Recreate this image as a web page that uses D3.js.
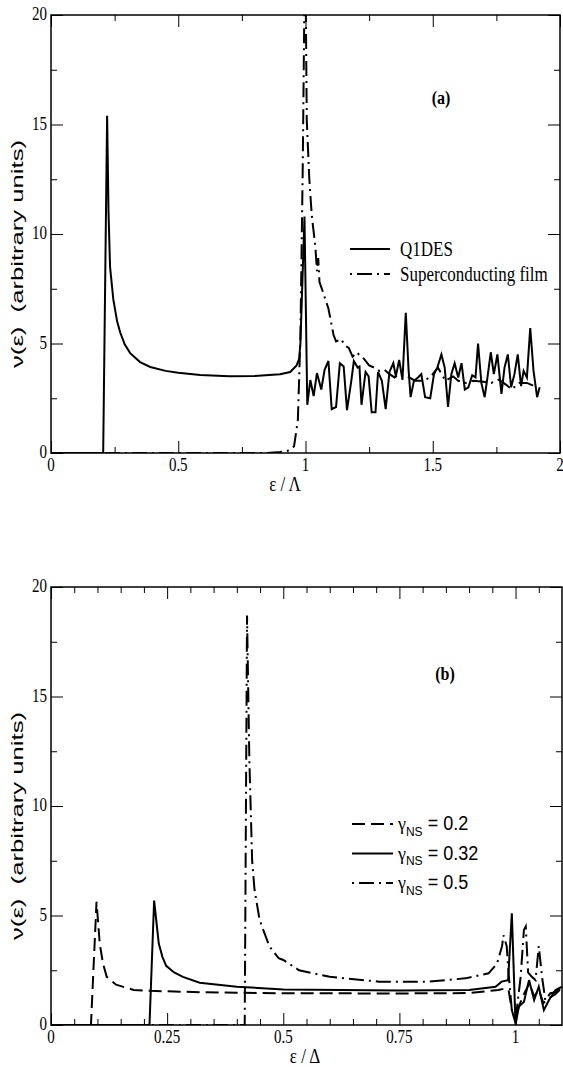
<!DOCTYPE html>
<html>
<head>
<meta charset="utf-8">
<script src="https://cdn.jsdelivr.net/npm/d3@7"></script>
<style>
  body { margin: 0; background: #fff; }
  svg { display: block; }
</style>
</head>
<body>
<svg id="chart" width="563" height="1067"></svg>
<script>
// ---- data ----
const yTicks = [0, 5, 10, 15, 20];
const yMinor = [2.5, 7.5, 12.5, 17.5];

const xTicksA = [0, 0.5, 1, 1.5, 2];
const xMinorA = [0.25, 0.75, 1.25, 1.75];
const xTicksB = [0, 0.25, 0.5, 0.75, 1];
const xMinorB = [0.05, 0.1, 0.15, 0.2, 0.3, 0.35, 0.4, 0.45, 0.55, 0.6, 0.65, 0.7,
                 0.8, 0.85, 0.9, 0.95, 1.05];

// panel (a): Q1DES
const q1des = [[0,0],[0.205,0],[0.2205,15.4],[0.226,11.0],[0.232,8.5],[0.245,7.0],[0.26,6.0],
  [0.272,5.5],[0.29,4.95],[0.311,4.56],[0.35,4.15],[0.39,3.93],[0.45,3.75],[0.5,3.66],
  [0.587,3.56],[0.7,3.5],[0.8,3.52],[0.9,3.6],[0.94,3.7],[0.965,4.0],[0.975,4.3],[0.98,5.0],
  [0.996,10.8],[1.007,2.2],[1.019,3.33],[1.032,2.6],[1.045,3.65],[1.062,2.9],[1.075,3.8],
  [1.09,4.2],[1.103,2.0],[1.12,2.1],[1.135,4.1],[1.15,3.95],[1.163,1.96],[1.18,3.3],
  [1.19,4.2],[1.205,3.9],[1.212,3.95],[1.22,2.2],[1.236,3.7],[1.248,3.5],[1.26,1.86],
  [1.275,1.86],[1.285,3.7],[1.3,3.3],[1.315,2.0],[1.33,3.7],[1.345,4.1],[1.355,3.5],
  [1.368,4.25],[1.381,3.34],[1.394,6.4],[1.405,3.8],[1.413,2.55],[1.426,3.3],[1.442,3.45],
  [1.455,3.6],[1.47,2.55],[1.49,2.5],[1.505,3.6],[1.518,3.9],[1.534,4.5],[1.547,3.9],
  [1.56,2.1],[1.573,3.6],[1.586,4.1],[1.6,3.45],[1.613,4.1],[1.626,2.9],[1.64,3.0],
  [1.655,3.55],[1.668,3.45],[1.678,5.0],[1.691,3.2],[1.704,2.55],[1.715,3.45],[1.728,4.6],
  [1.74,3.6],[1.754,4.5],[1.77,2.7],[1.782,3.9],[1.795,4.5],[1.808,3.0],[1.821,3.6],
  [1.834,4.5],[1.847,3.05],[1.857,3.75],[1.87,3.45],[1.883,5.7],[1.896,3.75],[1.91,2.55],
  [1.92,3.0]];

// panel (a): superconducting film
const scFilm = [[0,0],[0.85,0],[0.9,0.05],[0.93,0.1],[0.955,0.3],[0.97,1.5],[0.98,5.3],
  [0.989,12.9],[0.995,19.8],[1.0,22],[1.005,15.2],[1.015,12.5],[1.025,10.8],[1.039,9.4],
  [1.045,8.3],[1.05,8.9],[1.055,7.8],[1.07,7.3],[1.09,6.6],[1.11,5.4],[1.12,5.1],[1.14,5.2],
  [1.155,4.9],[1.17,4.8],[1.185,4.4],[1.2,4.6],[1.23,4.3],[1.25,4.0],[1.27,3.9],[1.29,3.75],
  [1.31,3.8],[1.33,3.6],[1.35,3.45],[1.37,3.6],[1.4,3.5],[1.43,3.3],[1.46,3.3],[1.49,3.45],
  [1.52,3.9],[1.55,3.3],[1.58,3.5],[1.6,3.3],[1.63,3.2],[1.66,3.3],[1.7,3.25],[1.73,3.2],
  [1.76,3.35],[1.79,3.1],[1.81,2.9],[1.84,3.2],[1.87,3.2],[1.9,3.05]];

// panel (b)
const gamma02 = [[0,0],[0.086,0],[0.098,5.63],[0.105,3.7],[0.112,2.8],[0.12,2.2],[0.14,1.84],
  [0.178,1.6],[0.214,1.56],[0.32,1.5],[0.5,1.45],[0.75,1.44],[0.9,1.46],[0.963,1.6],
  [0.978,1.67],[0.985,1.6],[0.992,0.68],[0.998,0.23],[1.01,1.0],[1.02,1.5],[1.03,1.9],
  [1.04,1.3],[1.05,1.6],[1.06,1.0],[1.07,1.2],[1.085,1.4],[1.1,1.7]];

const gamma032 = [[0,0],[0.212,0],[0.222,5.68],[0.232,3.72],[0.24,3.1],[0.248,2.7],
  [0.265,2.4],[0.284,2.2],[0.32,1.93],[0.4,1.75],[0.5,1.62],[0.75,1.58],[0.9,1.6],
  [0.957,1.75],[0.97,1.98],[0.984,2.05],[0.992,5.1],[1.0,0],[1.007,0.84],[1.018,1.05],
  [1.029,2.05],[1.04,1.14],[1.05,1.75],[1.061,0.68],[1.072,1.14],[1.086,1.6],[1.1,1.75]];

const gamma05 = [[0,0],[0.417,0],[0.422,18.7],[0.427,12.1],[0.433,7.5],[0.438,6.2],
  [0.449,4.8],[0.47,3.6],[0.49,3.05],[0.5,2.97],[0.534,2.5],[0.6,2.2],[0.706,1.98],
  [0.813,1.98],[0.892,2.13],[0.942,2.36],[0.96,2.8],[0.971,3.6],[0.974,4.1],[0.981,3.6],
  [0.985,2.36],[0.992,0.68],[1.0,0.23],[1.011,2.2],[1.018,4.34],[1.022,4.5],[1.027,2.4],
  [1.035,2.2],[1.043,2.05],[1.05,3.6],[1.057,2.2],[1.064,1.14],[1.075,1.45],[1.086,1.5],
  [1.1,1.75]];

const legendA = ["Q1DES", "Superconducting film"];
const legendB = ["0.2", "0.32", "0.5"];

// ---- drawing ----
const svg = d3.select("#chart");
const SERIF = "'Liberation Serif', 'Times New Roman', serif";
const SANS = "'Liberation Sans', Arial, sans-serif";
const DASH = "13,6";
const DASHDOT = "15,5,2,5";
const STRETCH = 1.2;   // figure text looks stretched vertically

// text with a vertical stretch, anchored at (x, y) baseline
function stext(parent, x, y, str, size, family, anchor, weight, k) {
  const g = parent.append("g")
    .attr("transform", "translate(" + x + "," + y + ") scale(1," + (k || STRETCH) + ")");
  return g.append("text")
    .attr("text-anchor", anchor || "start")
    .style("font-family", family)
    .style("font-size", size + "px")
    .style("font-weight", weight || "normal")
    .text(str);
}

function drawPanel(cfg) {
  const x = d3.scaleLinear().domain(cfg.xDomain).range([cfg.left, cfg.right]);
  const y = d3.scaleLinear().domain([0, 20]).range([cfg.bottom, cfg.top]);
  const g = svg.append("g");

  g.append("clipPath").attr("id", cfg.id + "-clip")
    .append("rect")
      .attr("x", cfg.left).attr("y", cfg.top)
      .attr("width", cfg.right - cfg.left).attr("height", cfg.bottom - cfg.top);

  const line = d3.line().x(function(d){ return x(d[0]); }).y(function(d){ return y(d[1]); });

  cfg.series.forEach(function(s){
    g.append("path")
      .attr("clip-path", "url(#" + cfg.id + "-clip)")
      .attr("d", line(s.data))
      .style("fill", "none")
      .style("stroke", "#000")
      .style("stroke-width", 2)
      .style("stroke-dasharray", s.dash || null);
  });

  // inside ticks on all four sides
  function axisTicks(axis, tr, size) {
    const a = g.append("g").attr("transform", tr).call(axis.tickSize(size).tickFormat(""));
    a.select(".domain").remove();
    a.selectAll("line").style("stroke", "#000").style("stroke-width", 1);
  }
  axisTicks(d3.axisBottom(x).tickValues(cfg.xTicks), "translate(0," + cfg.bottom + ")", -12);
  axisTicks(d3.axisBottom(x).tickValues(cfg.xMinor), "translate(0," + cfg.bottom + ")", -6);
  axisTicks(d3.axisTop(x).tickValues(cfg.xTicks), "translate(0," + cfg.top + ")", -12);
  axisTicks(d3.axisTop(x).tickValues(cfg.xMinor), "translate(0," + cfg.top + ")", -6);
  axisTicks(d3.axisLeft(y).tickValues(yTicks), "translate(" + cfg.left + ",0)", -12);
  axisTicks(d3.axisLeft(y).tickValues(yMinor), "translate(" + cfg.left + ",0)", -6);
  axisTicks(d3.axisRight(y).tickValues(yTicks), "translate(" + cfg.right + ",0)", -12);
  axisTicks(d3.axisRight(y).tickValues(yMinor), "translate(" + cfg.right + ",0)", -6);

  g.append("rect")
    .attr("x", cfg.left).attr("y", cfg.top)
    .attr("width", cfg.right - cfg.left).attr("height", cfg.bottom - cfg.top)
    .style("fill", "none").style("stroke", "#000").style("stroke-width", 1.5);

  // tick labels
  cfg.xTicks.forEach(function(v){
    stext(g, x(v), cfg.bottom + 18, String(v), 15, SERIF, "middle");
  });
  yTicks.forEach(function(v){
    stext(g, cfg.left - 4, y(v) + 5, String(v), 15, SERIF, "end");
  });

  // axis titles
  stext(g, cfg.xTitleX, cfg.bottom + 38, cfg.xTitle, 17, SERIF, "middle");
  g.append("text")
    .attr("transform", "translate(23," + ((cfg.top + cfg.bottom) / 2 + 20) + ") rotate(-90)")
    .attr("text-anchor", "middle")
    .attr("textLength", 228)
    .attr("lengthAdjust", "spacingAndGlyphs")
    .style("font-family", SANS)
    .style("font-size", "16px")
    .style("white-space", "pre")
    .text("ν(ε)\u00a0\u00a0(arbitrary units)");

  // panel tag
  stext(g, cfg.tag.x, cfg.tag.y, cfg.tag.text, 16, SERIF, "middle", "bold", 1.15);

  return { g: g, x: x, y: y };
}

const pa = drawPanel({
  id: "pa", left: 51, right: 560, top: 15, bottom: 453,
  xDomain: [0, 2], xTicks: xTicksA, xMinor: xMinorA, xTitle: "ε / Λ", xTitleX: 285,
  tag: { x: 441, y: 104, text: "(a)" },
  series: [{ data: q1des }, { data: scFilm, dash: DASHDOT }]
});

const pb = drawPanel({
  id: "pb", left: 51, right: 562, top: 587, bottom: 1025,
  xDomain: [0, 1.1], xTicks: xTicksB, xMinor: xMinorB, xTitle: "ε / Δ", xTitleX: 305,
  tag: { x: 445, y: 680, text: "(b)" },
  series: [{ data: gamma02, dash: DASH }, { data: gamma032 }, { data: gamma05, dash: DASHDOT }]
});

// legend (a)
const legA = pa.g.append("g");
legendA.forEach(function(name, i){
  const ly = 249 + i * 25;
  legA.append("line")
    .attr("x1", 350).attr("x2", 390).attr("y1", ly).attr("y2", ly)
    .style("stroke", "#000").style("stroke-width", 2)
    .style("stroke-dasharray", i === 1 ? "2,5,15,5" : null);
  stext(legA, 400, ly + 7, name, 17, SERIF, "start", "normal", 1.25);
});

// legend (b)
const legB = pb.g.append("g");
const legDash = ["13,6", null, "2,5,15,5"];
legendB.forEach(function(val, i){
  const ly = 824 + i * 29.5;
  legB.append("line")
    .attr("x1", 352).attr("x2", 393).attr("y1", ly).attr("y2", ly)
    .style("stroke", "#000").style("stroke-width", 2)
    .style("stroke-dasharray", legDash[i]);
  const t = stext(legB, 398, ly + 6, "", 18, SANS, "start", "normal", 1.1);
  t.append("tspan").style("font-family", SERIF).text("γ");
  t.append("tspan").attr("dy", 5).style("font-size", "12px").text("NS");
  t.append("tspan").attr("dy", -5).text(" = " + val);
});
</script>
</body>
</html>
